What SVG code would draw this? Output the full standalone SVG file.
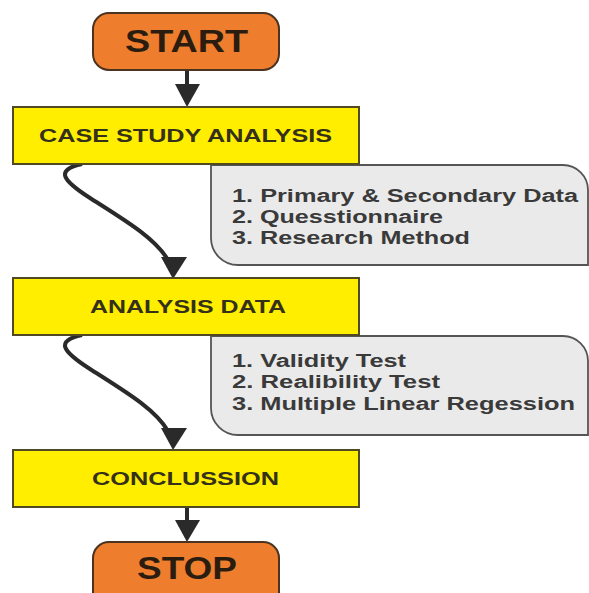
<svg xmlns="http://www.w3.org/2000/svg" width="589" height="593" viewBox="0 0 589 593">
<defs>
<style>
.term{fill:#EE7D2E;stroke:#4a3320;stroke-width:2}
.proc{fill:#FFEE00;stroke:#4f4a24;stroke-width:2}
.note{fill:#EAEAEA;stroke:#555;stroke-width:1.8}
.t{font-family:"Liberation Sans",Arial,sans-serif;font-weight:bold;fill:#34301a}
.tt{font-size:31px;fill:#2a1d10}
.tb{font-size:19px}
.tn{font-size:18px;fill:#3a3a3a}
.ln{fill:none;stroke:#2a2a2a;stroke-width:4}
.ah{fill:#2a2a2a}
</style>
</defs>
<rect width="589" height="593" fill="#ffffff"/>
<g id="connectors">
<line class="ln" x1="187" y1="70" x2="187" y2="88"/>
<polygon class="ah" points="175,84 200,84 187,107"/>
<path class="ln" d="M82,164 C55,170 62,180 90,198 C126,221 155,238 168,260"/>
<polygon class="ah" points="161,257 187,257 173,279"/>
<path class="ln" d="M82,335 C55,341 62,351 90,369 C126,392 155,409 168,431"/>
<polygon class="ah" points="161,428 187,428 173,450"/>
<line class="ln" x1="187" y1="507" x2="187" y2="524"/>
<polygon class="ah" points="175,520 200,520 187,542"/>
</g>
<g id="note1">
<path class="note" d="M211,165 H563 A25,25 0 0 1 588,190 V265 H238 A27,27 0 0 1 211,238 Z"/>
<text class="t tn" x="232" y="202" textLength="346" lengthAdjust="spacingAndGlyphs">1. Primary &amp; Secondary Data</text>
<text class="t tn" x="232" y="223" textLength="211" lengthAdjust="spacingAndGlyphs">2. Quesstionnaire</text>
<text class="t tn" x="232" y="244" textLength="238" lengthAdjust="spacingAndGlyphs">3. Research Method</text>
</g>
<g id="note2">
<path class="note" d="M211,336 H563 A25,25 0 0 1 588,361 V435 H238 A27,27 0 0 1 211,408 Z"/>
<text class="t tn" x="232" y="367" textLength="174" lengthAdjust="spacingAndGlyphs">1. Validity Test</text>
<text class="t tn" x="232" y="388" textLength="208" lengthAdjust="spacingAndGlyphs">2. Realibility Test</text>
<text class="t tn" x="232" y="410" textLength="343" lengthAdjust="spacingAndGlyphs">3. Multiple Linear Regession</text>
</g>
<g id="start">
<rect class="term" x="93" y="13" width="186" height="57" rx="16"/>
<text class="t tt" x="125" y="52" textLength="123" lengthAdjust="spacingAndGlyphs">START</text>
</g>
<g id="case-study">
<rect class="proc" x="13" y="107" width="346" height="57"/>
<text class="t tb" x="39" y="142" textLength="293" lengthAdjust="spacingAndGlyphs">CASE STUDY ANALYSIS</text>
</g>
<g id="analysis-data">
<rect class="proc" x="13" y="278" width="346" height="57"/>
<text class="t tb" x="90" y="313" textLength="196" lengthAdjust="spacingAndGlyphs">ANALYSIS DATA</text>
</g>
<g id="conclussion">
<rect class="proc" x="13" y="450" width="346" height="57"/>
<text class="t tb" x="92" y="485" textLength="187" lengthAdjust="spacingAndGlyphs">CONCLUSSION</text>
</g>
<g id="stop">
<rect class="term" x="93" y="542" width="186" height="70" rx="16"/>
<text class="t tt" x="137" y="579" textLength="100" lengthAdjust="spacingAndGlyphs">STOP</text>
</g>
</svg>
